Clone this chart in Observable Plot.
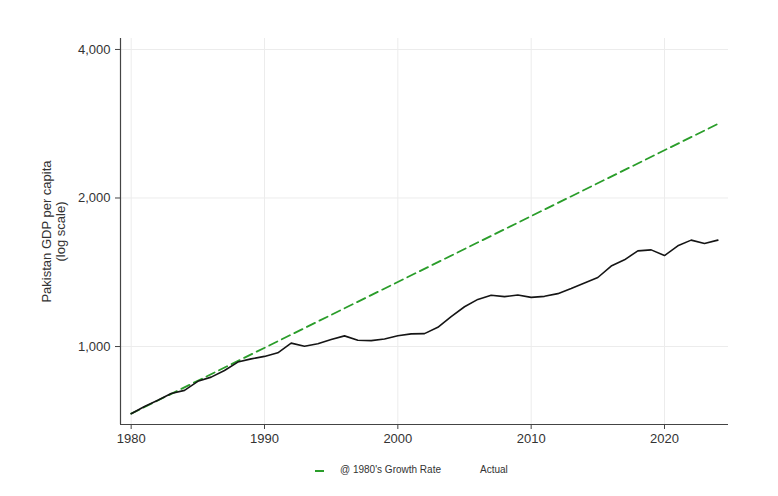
<!DOCTYPE html>
<html>
<head>
<meta charset="utf-8">
<script src="https://cdn.jsdelivr.net/npm/d3@7"></script>
<script src="https://cdn.jsdelivr.net/npm/@observablehq/plot@0.6"></script>
<style>
  html, body { margin: 0; padding: 0; background: #fff; }
  #wrap { position: relative; width: 778px; height: 496px; font-family: "Liberation Sans", Arial, sans-serif; }
  #legend { position: absolute; left: 0; top: 458px; width: 778px; height: 38px; }
  .sw { position: absolute; top: 12px; width: 9px; height: 0; border-top: 2px solid #2a9d2a; }
  .lt { position: absolute; top: 6px; font-size: 10px; color: #333; white-space: nowrap; }
</style>
</head>
<body>
<div id="wrap">
  <div id="chart"></div>
  <div id="legend">
    <div class="sw" style="left:315px"></div>
    <div class="lt" style="left:340px">@ 1980's Growth Rate</div>
    <div class="lt" style="left:480px">Actual</div>
  </div>
</div>
<script>
const years = [1980,1981,1982,1983,1984,1985,1986,1987,1988,1989,
  1990,1991,1992,1993,1994,1995,1996,1997,1998,1999,
  2000,2001,2002,2003,2004,2005,2006,2007,2008,2009,
  2010,2011,2012,2013,2014,2015,2016,2017,2018,2019,
  2020,2021,2022,2023,2024];
const actual = [731,756,778,803,815,850,867,894,930,944,
  955,971,1016,1001,1013,1033,1051,1030,1028,1036,
  1052,1061,1062,1094,1150,1204,1246,1270,1262,1272,
  1258,1264,1280,1311,1345,1380,1456,1499,1563,1570,
  1529,1600,1643,1617,1643];
const trendYears = [1980, 2024];
const trendValues = [731, 2826];
const xTicks = [1980, 1990, 2000, 2010, 2020];
const yTicks = [1000, 2000, 4000];
const yTitle = "Pakistan GDP per capita\n(log scale)";

const xDomain = [1979.2, 2024.8];
const yDomain = [695, 4210];

const actualData = years.map((y, i) => ({year: y, value: actual[i]}));
const trendData = trendYears.map((y, i) => ({year: y, value: trendValues[i]}));

const chart = Plot.plot({
  width: 778,
  height: 458,
  marginLeft: 120,
  marginRight: 50,
  marginTop: 38,
  marginBottom: 34,
  style: {fontFamily: "'Liberation Sans', Arial, sans-serif", background: "#fff", color: "#333"},
  x: {domain: xDomain},
  y: {type: "log", domain: yDomain},
  marks: [
    Plot.gridX(xTicks, {stroke: "#ececec", strokeOpacity: 1}),
    Plot.gridY(yTicks, {stroke: "#ececec", strokeOpacity: 1}),
    Plot.axisX(xTicks, {tickSize: 5, tickPadding: 4, fontSize: 13, tickFormat: d => String(d), label: null, stroke: "#444", fill: "#333"}),
    Plot.axisY(yTicks, {tickSize: 5, tickPadding: 5, fontSize: 13, tickFormat: d3.format(","), label: null, stroke: "#444", fill: "#333"}),
    Plot.ruleX([xDomain[0]], {stroke: "#444", strokeWidth: 1.2}),
    Plot.ruleY([yDomain[0]], {stroke: "#444", strokeWidth: 1.2}),
    Plot.line(trendData, {x: "year", y: "value", stroke: "#2a9d2a", strokeWidth: 1.8, strokeDasharray: "9,5"}),
    Plot.line(actualData, {x: "year", y: "value", stroke: "#151515", strokeWidth: 1.6}),
    Plot.text([yTitle], {frameAnchor: "left", rotate: -90, dx: -67, fontSize: 13, fill: "#333", textAnchor: "middle", lineHeight: 1.05})
  ]
});
document.getElementById("chart").appendChild(chart);
</script>
</body>
</html>
